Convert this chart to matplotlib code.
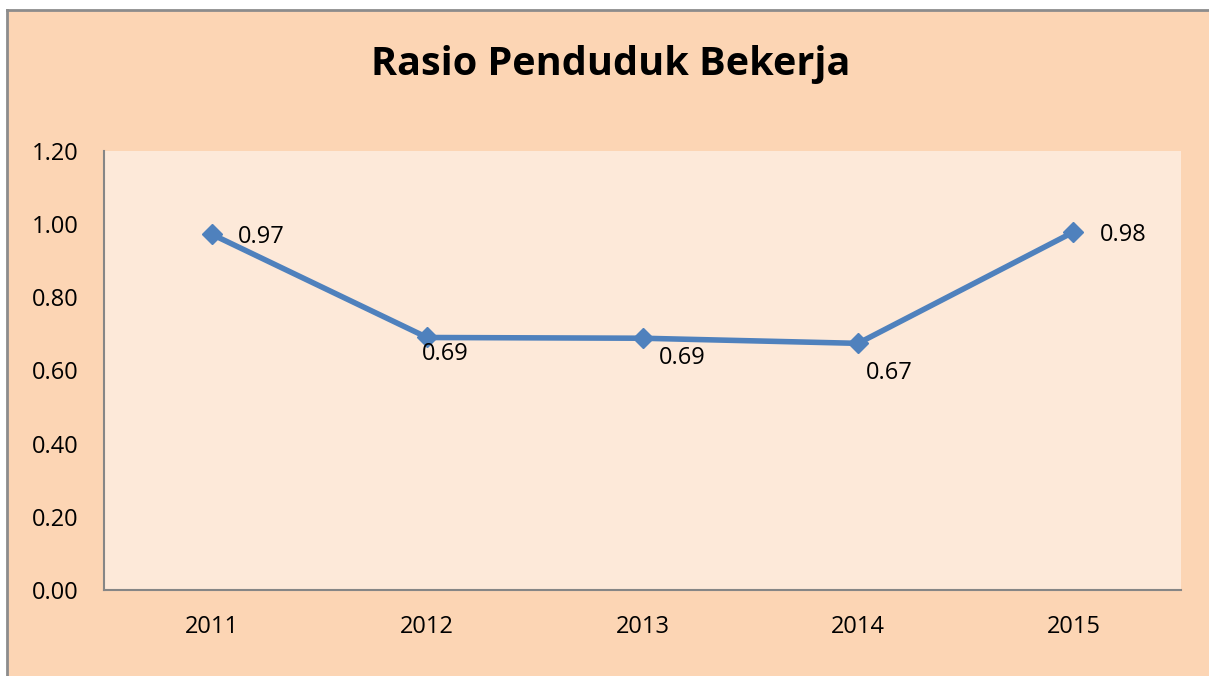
import matplotlib
matplotlib.use('Agg')
import matplotlib.pyplot as plt
from matplotlib.patches import Rectangle
from matplotlib.lines import Line2D

years = ['2011', '2012', '2013', '2014', '2015']
rasio = [0.972, 0.690, 0.688, 0.674, 0.978]
y_ticks = [0.0, 0.2, 0.4, 0.6, 0.8, 1.0, 1.2]

plt.rcParams['font.family'] = ['Open Sans', 'DejaVu Sans']

W, H = 1209, 676
fig = plt.figure(figsize=(W / 100, H / 100), dpi=100)
fig.patch.set_facecolor('white')

# chart area (cropped: only top and left border visible)
bx, by = 7 / W, 1 - 10 / H
fig.patches.append(Rectangle((bx, 0), 1 - bx, by, transform=fig.transFigure,
                             facecolor='#FCD5B4', edgecolor='none', zorder=-2))
fig.lines.append(Line2D([bx, bx], [0, by], transform=fig.transFigure,
                        color='#8C8C8C', linewidth=2, zorder=-1))
fig.lines.append(Line2D([bx, 1], [by, by], transform=fig.transFigure,
                        color='#8C8C8C', linewidth=2, zorder=-1))

ax = fig.add_axes([0.086, 0.127, 0.891, 0.650])
ax.set_facecolor('#FDE9D9')

x = list(range(len(years)))
ax.plot(x, rasio, color='#4F81BD', linewidth=4, marker='D', markersize=10,
        markeredgecolor='#4F81BD', markerfacecolor='#4F81BD', zorder=3)

# label offsets (points) roughly like the excel placement
offsets = [(19, -2), (-4, -12), (12, -14), (6, -21), (19, -2)]
for xi, v, off in zip(x, rasio, offsets):
    ax.annotate('%.2f' % v, (xi, v), xytext=off, textcoords='offset points',
                ha='left', va='center', fontsize=17, color='black')

ax.set_xlim(-0.5, len(years) - 0.5)
ax.set_ylim(0, 1.2)
ax.set_xticks(x)
ax.set_xticklabels(years)
ax.set_yticks(y_ticks)
ax.set_yticklabels(['%.2f' % t for t in y_ticks])
ax.tick_params(axis='both', length=0, labelsize=17)
ax.tick_params(axis='x', pad=18)
ax.tick_params(axis='y', pad=18)
for s in ['top', 'right']:
    ax.spines[s].set_visible(False)
for s in ['left', 'bottom']:
    ax.spines[s].set_color('#868686')
    ax.spines[s].set_linewidth(1.5)

fig.text(0.505, 0.905, 'Rasio Penduduk Bekerja', ha='center', va='center',
         fontsize=28.5, fontweight='bold')

plt.savefig('out.png', dpi=100, facecolor=fig.get_facecolor())
